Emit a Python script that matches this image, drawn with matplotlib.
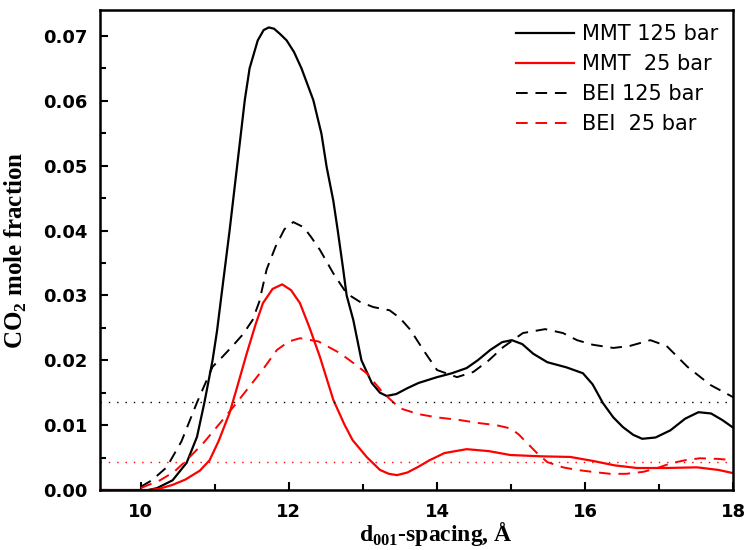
import numpy as np
import matplotlib.pyplot as plt
from matplotlib.ticker import MultipleLocator

plt.rcParams['mathtext.fontset'] = 'custom'
plt.rcParams['mathtext.bf'] = 'Liberation Serif:bold'
plt.rcParams['mathtext.rm'] = 'Liberation Serif:bold'

# MMT 125 bar (black solid)
mmt125_x = [9.45, 10.1, 10.22, 10.43, 10.62, 10.76, 10.86, 10.97, 11.03, 11.09, 11.2, 11.3, 11.405, 11.47,
            11.58, 11.66, 11.73, 11.8, 11.88, 11.97, 12.07, 12.17, 12.33, 12.44, 12.51, 12.6, 12.66, 12.73, 12.78,
            12.87, 12.98, 13.12, 13.23, 13.32, 13.45, 13.6, 13.75, 14.0, 14.2, 14.4, 14.55, 14.72, 14.88, 15.01,
            15.15, 15.3, 15.49, 15.75, 15.97, 16.1, 16.24, 16.38, 16.51, 16.65, 16.77, 16.95, 17.15, 17.35, 17.53,
            17.7, 17.85, 18.0]
mmt125_y = [0.0, 0.0, 0.0003, 0.0015, 0.0042, 0.0082, 0.0135, 0.02, 0.0245, 0.03, 0.04, 0.0498, 0.0601, 0.065,
            0.0693, 0.0709, 0.0713, 0.0711, 0.0703, 0.0693, 0.0675, 0.065, 0.0601, 0.0549, 0.0498, 0.0446, 0.04, 0.0343, 0.03,
            0.0262, 0.02, 0.0165, 0.015, 0.0145, 0.0148, 0.0157, 0.0165, 0.0174,
            0.018, 0.0188, 0.02, 0.0216, 0.0228, 0.0231, 0.0225, 0.021, 0.0197, 0.0189, 0.018, 0.0163, 0.0134, 0.0112,
            0.0097, 0.0085, 0.0079, 0.0081, 0.0092, 0.011, 0.012, 0.0118, 0.0108, 0.0096]

# MMT 25 bar (red solid)
mmt25_x = [9.45, 10.1, 10.25, 10.43, 10.6, 10.8, 10.93, 11.05, 11.2, 11.3, 11.43, 11.55, 11.65, 11.78, 11.91,
           12.03, 12.15, 12.28, 12.42, 12.6, 12.75, 12.86, 13.05, 13.23, 13.35, 13.46, 13.6, 13.75, 13.9,
           14.1, 14.4, 14.7, 14.99, 15.4, 15.8, 16.1, 16.4, 16.7, 17.1, 17.51, 17.8, 18.0]
mmt25_y = [0.0, 0.0, 0.0002, 0.0008, 0.0016, 0.003, 0.0046, 0.0075, 0.0119, 0.0158, 0.021, 0.0255, 0.0288, 0.031, 0.0317,
           0.0308, 0.0288, 0.025, 0.0205, 0.0139, 0.0101, 0.0077, 0.0051, 0.0031, 0.0025, 0.0023, 0.0027, 0.0036, 0.0046,
           0.0057, 0.0063, 0.006, 0.0054, 0.0052, 0.0051, 0.0045, 0.0038, 0.0034, 0.0034, 0.0035, 0.0031, 0.0026]

# BEI 125 bar (black dashed)
bei125_x = [10.0, 10.15, 10.35, 10.55, 10.76, 10.97, 11.1, 11.24, 11.38, 11.51, 11.6, 11.7, 11.82, 11.94, 12.06,
            12.2, 12.3, 12.42, 12.6, 12.78, 12.96, 13.14, 13.36, 13.5, 13.64, 13.82, 14.0, 14.27, 14.49, 14.7,
            14.89, 15.16, 15.46, 15.7, 15.89, 16.1, 16.38, 16.6, 16.88, 17.1, 17.38, 17.69, 18.0]
bei125_y = [0.0005, 0.0015, 0.0035, 0.0075, 0.0135, 0.019, 0.0205, 0.0222, 0.024, 0.0262, 0.029, 0.034, 0.0375, 0.0402, 0.0413,
            0.0405, 0.039, 0.037, 0.0334, 0.0303, 0.029, 0.0282, 0.0277, 0.0265, 0.0247, 0.0215, 0.0185, 0.0174, 0.0182, 0.02,
            0.022, 0.0242, 0.0248, 0.0242, 0.0231, 0.0224, 0.0219, 0.0222, 0.0231, 0.0222, 0.019, 0.0162, 0.0143]

# BEI 25 bar (red dashed)
bei25_x = [10.0, 10.26, 10.45, 10.62, 10.85, 11.07, 11.25, 11.43, 11.65, 11.84, 12.0, 12.15, 12.4, 12.69, 12.88,
           13.05, 13.27, 13.5, 13.75, 14.0, 14.3, 14.58, 14.8, 14.99, 15.1, 15.22, 15.35, 15.49, 15.7, 15.89,
           16.1, 16.34, 16.55, 16.78, 16.95, 17.15, 17.35, 17.55, 17.8, 18.0]
bei25_y = [0.0003, 0.0015, 0.0028, 0.0046, 0.0073, 0.0103, 0.0128, 0.0154, 0.0186, 0.0216, 0.0229, 0.0234, 0.0229, 0.0211, 0.0195,
           0.018, 0.015, 0.0126, 0.0117, 0.0112, 0.0108, 0.0103, 0.01, 0.0095, 0.0086, 0.0072, 0.0057, 0.0043, 0.0035, 0.0031,
           0.0028, 0.0025, 0.0025, 0.0028, 0.0033, 0.0041, 0.0046, 0.0049, 0.0048, 0.0046]

ref_black = 0.0135
ref_red = 0.0043

fig = plt.figure(figsize=(7.46, 5.5), dpi=100)
ax = fig.add_axes([0.134, 0.109, 0.849, 0.873])

ax.plot(mmt125_x, mmt125_y, color='black', lw=1.6, label='MMT 125 bar')
ax.plot(mmt25_x, mmt25_y, color='red', lw=1.6, label='MMT  25 bar')
ax.plot(bei125_x, bei125_y, color='black', lw=1.4, dashes=(6, 4), label='BEI 125 bar')
ax.plot(bei25_x, bei25_y, color='red', lw=1.4, dashes=(6, 4), label='BEI  25 bar')
ax.axhline(ref_black, color='black', lw=1.0, ls=(0, (1, 5)))
ax.axhline(ref_red, color='red', lw=1.0, ls=(0, (1, 5)))

ax.set_xlim(9.45, 18.0)
ax.set_ylim(0, 0.074)
ax.xaxis.set_major_locator(MultipleLocator(2))
ax.xaxis.set_minor_locator(MultipleLocator(1))
ax.yaxis.set_major_locator(MultipleLocator(0.01))
ax.yaxis.set_minor_locator(MultipleLocator(0.005))
ax.yaxis.set_major_formatter(plt.FormatStrFormatter('%.2f'))
ax.tick_params(which='both', direction='in', width=1.5)
ax.tick_params(which='major', length=6)
ax.tick_params(which='minor', length=4)
for lab in ax.get_xticklabels() + ax.get_yticklabels():
    lab.set_fontfamily('DejaVu Sans')
    lab.set_fontweight('bold')
    lab.set_fontsize(13)
ax.tick_params(axis='x', pad=9)
ax.tick_params(axis='y', pad=9)
for s in ax.spines.values():
    s.set_linewidth(1.8)

ax.set_xlabel('d$_{\\mathrm{001}}$-spacing, Å', fontfamily='Liberation Serif', fontweight='bold', fontsize=17, labelpad=0)
ax.xaxis.set_label_coords(0.53, -0.063)
ax.set_ylabel('CO$_{\\mathrm{2}}$ mole fraction', fontfamily='Liberation Serif', fontweight='bold', fontsize=18, labelpad=10)

leg = ax.legend(loc='upper right', frameon=False, prop={'family': 'DejaVu Sans', 'size': 15},
                handlelength=2.8, handletextpad=0.4, labelspacing=0.48, borderaxespad=0.3)

fig.savefig('out.png', dpi=100)
